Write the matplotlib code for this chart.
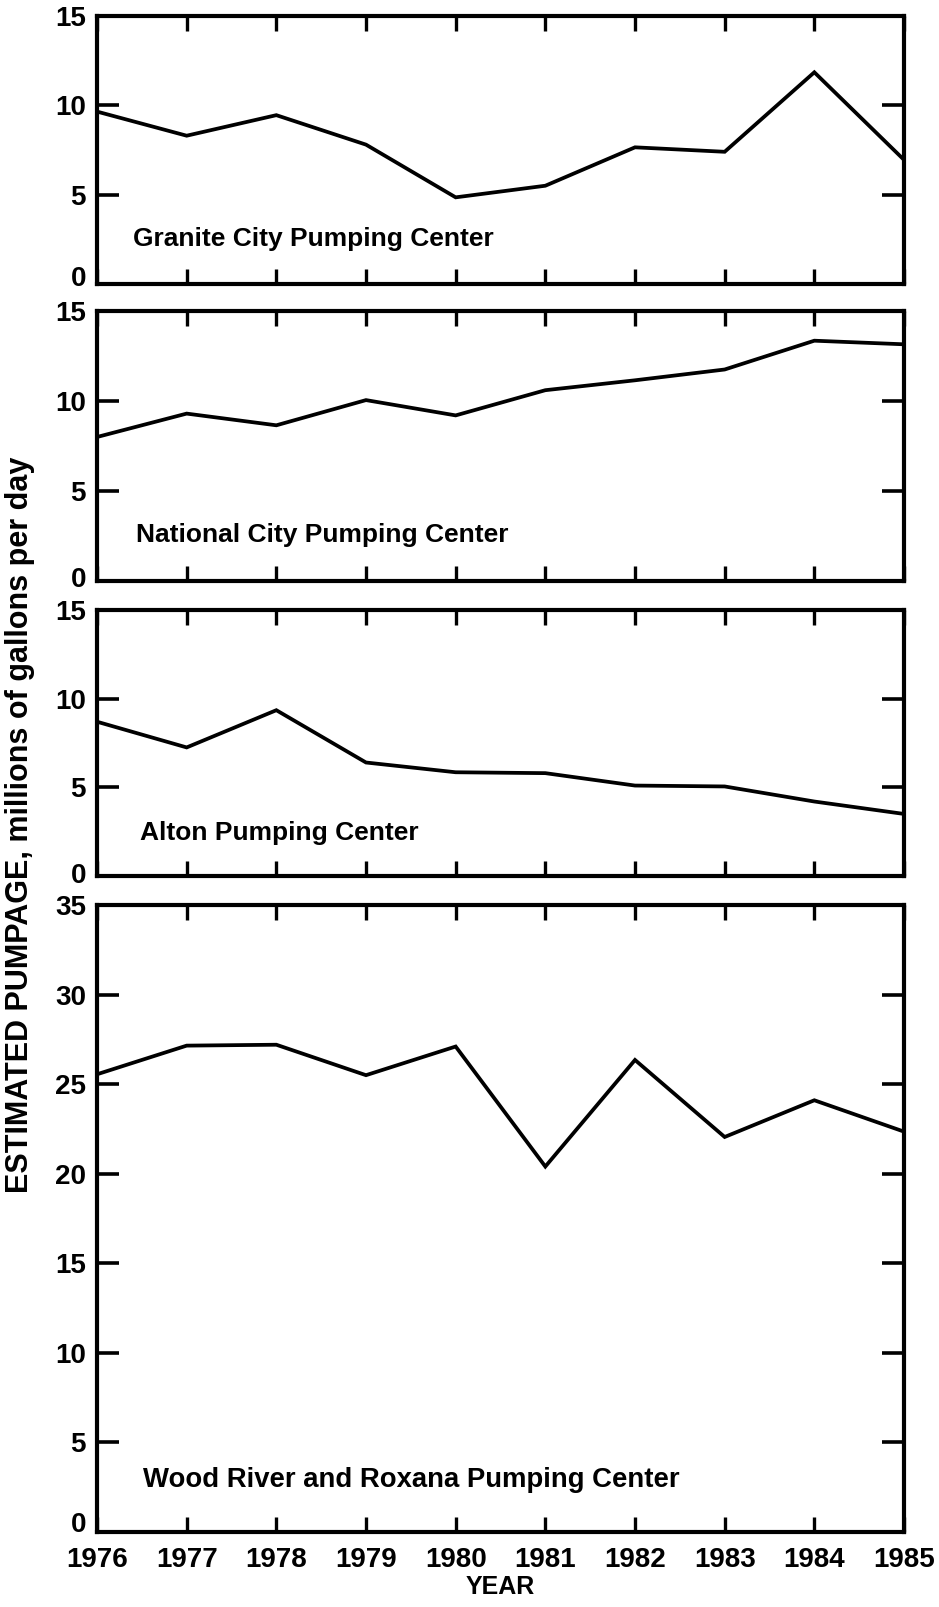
import matplotlib
matplotlib.use("Agg")
from matplotlib import pyplot as plt
from matplotlib.transforms import ScaledTranslation

# Estimated pumpage, millions of gallons per day
years = [1976, 1977, 1978, 1979, 1980, 1981, 1982, 1983, 1984, 1985]
granite_city = [9.65, 8.3, 9.45, 7.8, 4.85, 5.5, 7.65, 7.4, 11.85, 6.95]
national_city = [8.0, 9.3, 8.65, 10.05, 9.2, 10.6, 11.15, 11.75, 13.35, 13.15]
alton = [8.7, 7.25, 9.35, 6.4, 5.85, 5.8, 5.1, 5.05, 4.2, 3.5]
wood_river = [25.55, 27.15, 27.2, 25.5, 27.1, 20.4, 26.35, 22.05, 24.1, 22.35]

panel_names = [
    "Granite City Pumping Center",
    "National City Pumping Center",
    "Alton Pumping Center",
    "Wood River and Roxana Pumping Center",
]
panel_series = [granite_city, national_city, alton, wood_river]
panel_ymax = [15, 15, 15, 35]

plt.rcParams['font.family'] = ['Liberation Sans', 'DejaVu Sans']
plt.rcParams['font.weight'] = 'bold'
plt.rcParams['axes.labelweight'] = 'bold'

W, H = 939, 1607
fig = plt.figure(figsize=(W / 100, H / 100), dpi=100)

# pixel boxes: (top, bottom) of each panel, shared left/right edges
left_px, right_px = 97, 904
boxes = [(16, 284), (311, 581), (610, 876), (905, 1532)]
label_pos = [(0.045, 0.168), (0.048, 0.17), (0.053, 0.162), (0.057, 0.083)]
label_size = [19, 19, 19, 19.8]
zero_lift = [8, 4, 3, 10]  # px the "0" label sits above the axis line


def make_panel(top, bottom):
    rect = [left_px / W, 1 - bottom / H, (right_px - left_px) / W, (bottom - top) / H]
    return fig.add_axes(rect)


for i, (name, series, ymax) in enumerate(zip(panel_names, panel_series, panel_ymax)):
    ax = make_panel(*boxes[i])
    ax.plot(years, series, color='black', linewidth=2.7, solid_joinstyle='miter')
    ax.set_xlim(years[0], years[-1])
    ax.set_ylim(0, ymax)
    ax.set_xticks(years)
    ax.set_yticks(range(0, ymax + 1, 5))
    for s in ax.spines.values():
        s.set_linewidth(3.0)
    ax.tick_params(axis='x', direction='in', top=True, bottom=True,
                   length=11, width=2.4, pad=10.5, labelsize=20)
    ax.tick_params(axis='y', direction='in', left=True, right=True,
                   length=16, width=2.6, pad=8, labelsize=20)
    if i < 3:
        ax.tick_params(axis='x', labelbottom=False)

    zero_label = ax.yaxis.get_major_ticks()[0].label1
    zero_label.set_transform(zero_label.get_transform()
                             + ScaledTranslation(0, zero_lift[i] / 100, fig.dpi_scale_trans))

    ax.text(label_pos[i][0], label_pos[i][1], name, transform=ax.transAxes,
            ha='left', va='center', fontsize=label_size[i])
    if i == 3:
        ax.set_xlabel("YEAR", fontsize=18, labelpad=2)

fig.text(20 / W, 1 - 825 / H, "ESTIMATED PUMPAGE, millions of gallons per day",
         rotation=90, ha='center', va='center', fontsize=22)

fig.savefig("out.png", dpi=100)
